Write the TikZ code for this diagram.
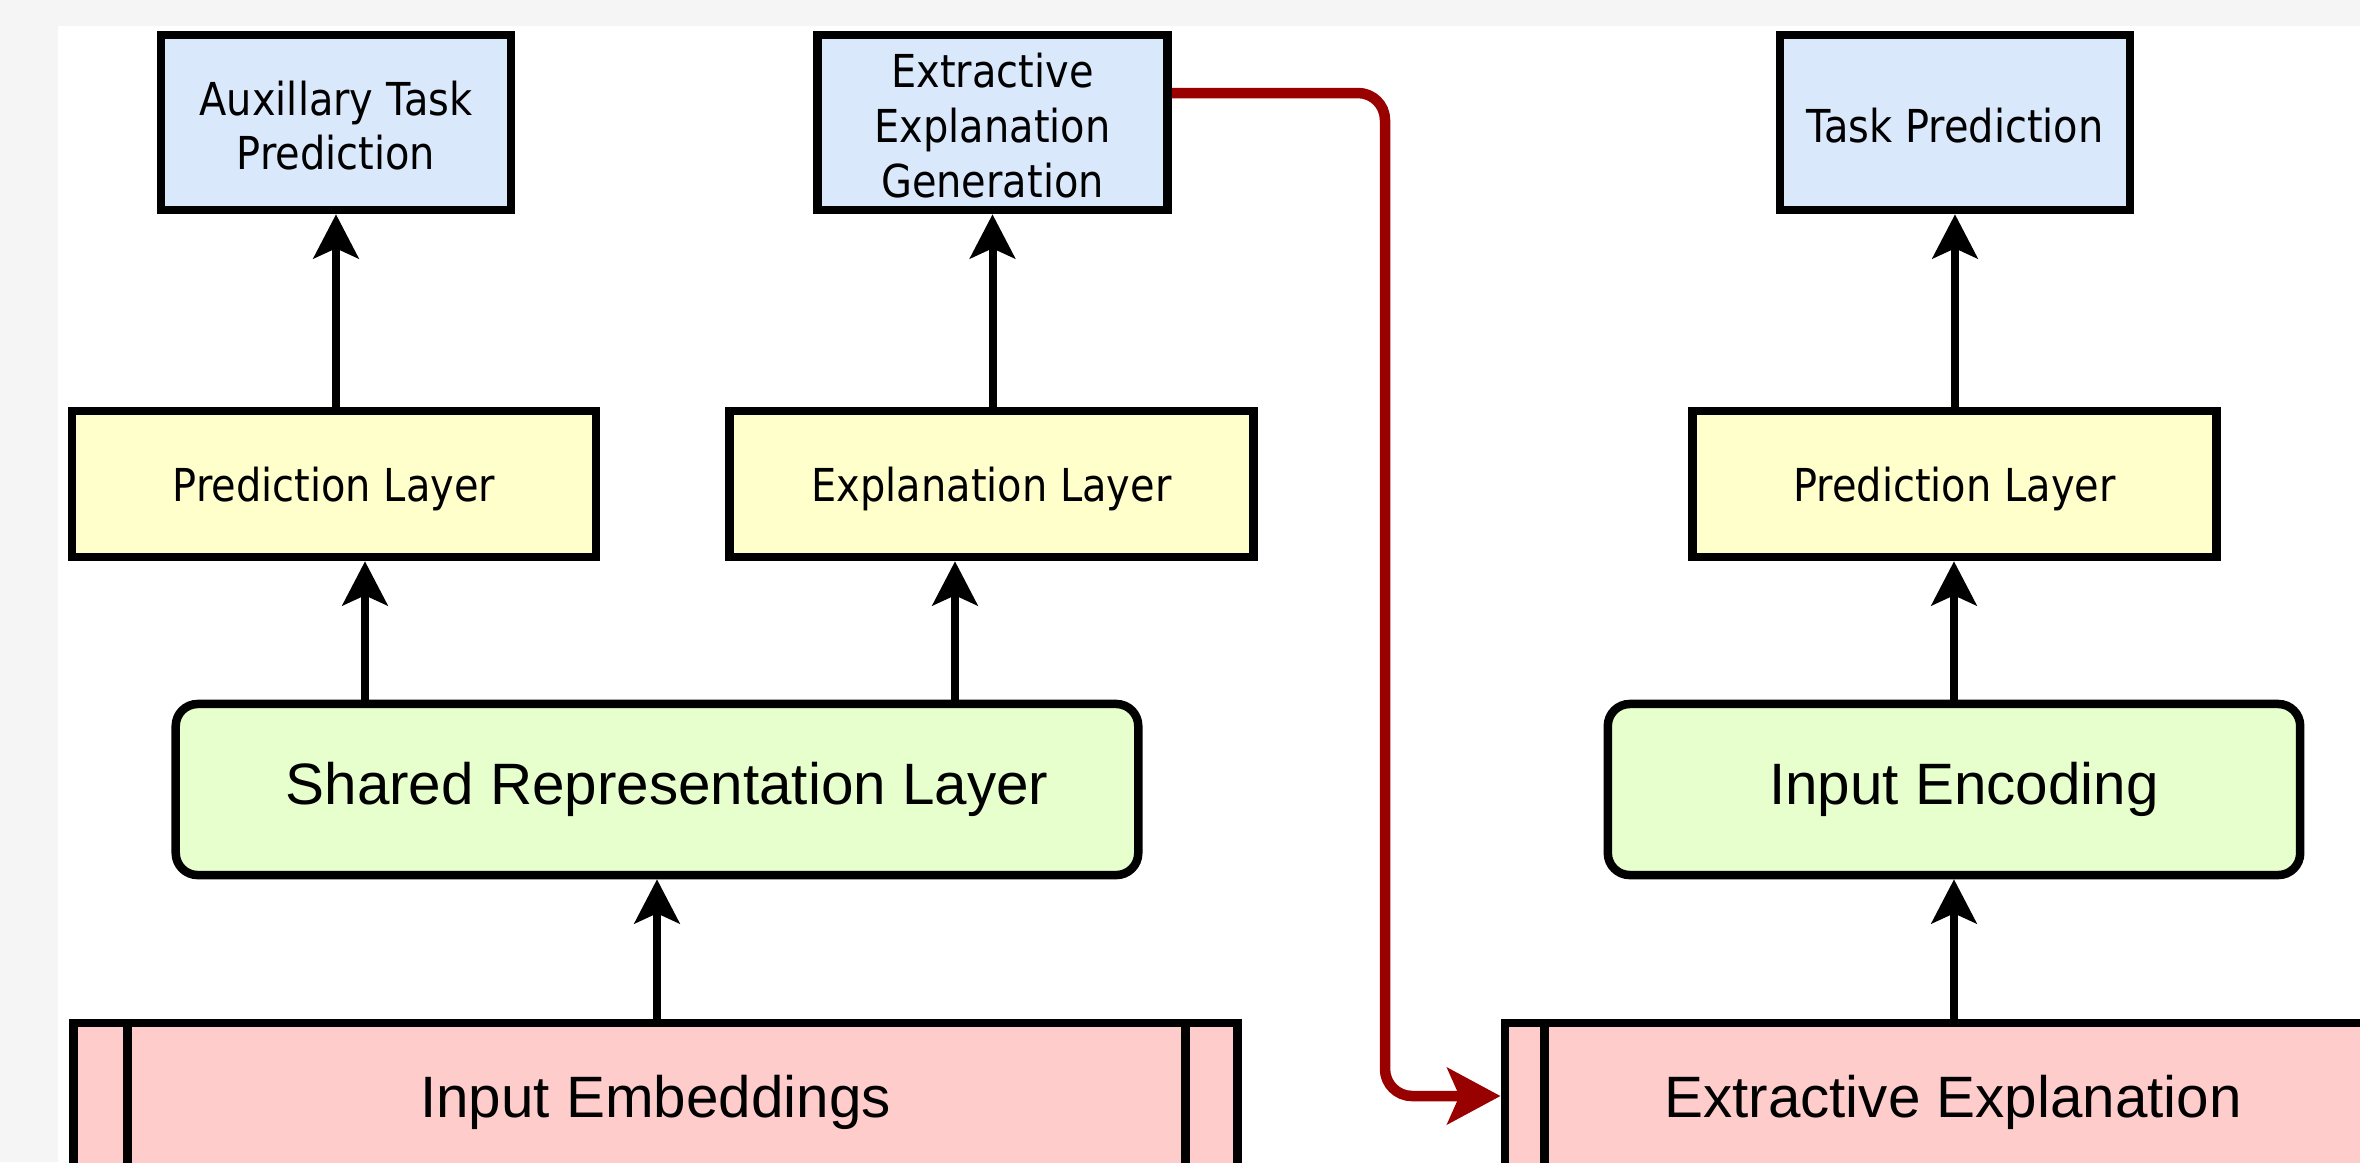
\documentclass[tikz,border=0pt]{standalone}
\usepackage{fontspec}
\usetikzlibrary{arrows.meta}
\newfontfamily\boxfont[FakeStretch=0.88]{DejaVu Sans}
\newfontfamily\layerfont{Liberation Sans}
\definecolor{framegray}{HTML}{F5F5F5}
\definecolor{outfill}{HTML}{DAE8FC}
\definecolor{layerfill}{HTML}{FFFFCC}
\definecolor{reprfill}{HTML}{E6FFCC}
\definecolor{infill}{HTML}{FFCCCC}
\definecolor{linkred}{HTML}{990000}
% centred block of lines, its ink set lower while its box keeps its size
\newcommand\boxtext[2]{\raisebox{-#1}[\height][\depth]{\begin{tabular}{@{}c@{}}#2\end{tabular}}}

\begin{document}
\begin{tikzpicture}[x=0.01cm,y=-0.01cm,
  box/.style={draw=black, line width=0.085cm, outer sep=0.0425cm, inner sep=0pt,
    align=center, text=black},
  smallbox/.style={box, font={\boxfont\fontsize{12.9pt}{15.6pt}\selectfont}},
  outbox/.style={smallbox, fill=outfill, minimum width=3.50cm, minimum height=1.75cm},
  layerbox/.style={smallbox, fill=layerfill, minimum width=5.24cm, minimum height=1.46cm},
  bigbox/.style={box, font={\layerfont\fontsize{16.6pt}{19pt}\selectfont}},
  reprbox/.style={bigbox, fill=reprfill, rounded corners=0.22cm, minimum height=1.71cm},
  inbox/.style={bigbox, fill=infill, minimum height=1.58cm},
  arr/.style={draw=black, line width=0.08cm,
    -{Stealth[length=0.44cm,width=0.45cm,inset=0.1cm]}},
  redarr/.style={draw=linkred, line width=0.105cm, rounded corners=0.27cm,
    -{Stealth[length=0.53cm,width=0.56cm,inset=0.12cm]}}]

% page frame
\useasboundingbox (0,0) rectangle (2360,1162);
\clip (0,0) rectangle (2360,1162);
\fill[framegray] (0,0) rectangle (2360,1162);
\fill[white] (58,26) rectangle (2360,1162);

% output boxes
\node[outbox] (aux)  at (336,122.5)   {\boxtext{0.09cm}{Auxillary Task\\Prediction}};
\node[outbox] (egen) at (992.5,122.5) {\boxtext{0.09cm}{Extractive\\Explanation\\Generation}};
\node[outbox] (task) at (1955,122.5)  {\boxtext{0.09cm}{Task Prediction}};

% layer boxes
\node[layerbox] (predL) at (334,484)    {\boxtext{0.07cm}{Prediction Layer}};
\node[layerbox] (explL) at (991.5,484)  {\boxtext{0.07cm}{Explanation Layer}};
\node[layerbox] (predR) at (1954.5,484) {\boxtext{0.07cm}{Prediction Layer}};

% representation boxes
\node[reprbox, minimum width=9.62cm] (shared) at (657,789.5)  {\hspace*{0.2cm}Shared Representation Layer};
\node[reprbox, minimum width=6.92cm] (inenc)  at (1954,789.5) {\hspace*{0.2cm}Input Encoding};

% input boxes (run past the lower edge of the page)
\node[inbox, minimum width=11.63cm] (inemb)  at (655.5,1102) {Input Embeddings};
\node[inbox, minimum width=8.96cm]  (extexp) at (1953,1102)  {Extractive Explanation};
\draw[line width=0.085cm] ([xshift=0.58cm]inemb.north west) -- ([xshift=0.58cm]inemb.south west);
\draw[line width=0.085cm] ([xshift=-0.56cm]inemb.north east) -- ([xshift=-0.56cm]inemb.south east);
\draw[line width=0.085cm] ([xshift=0.44cm]extexp.north west) -- ([xshift=0.44cm]extexp.south west);

% connectors
\coordinate (a1) at (365,0);
\coordinate (a2) at (955,0);
\draw[arr] (aux.south |- predL.north) -- (aux.south);
\draw[arr] (egen.south |- explL.north) -- (egen.south);
\draw[arr] (task.south |- predR.north) -- (task.south);
\draw[arr] (shared.north -| a1) -- (predL.south -| a1);
\draw[arr] (shared.north -| a2) -- (explL.south -| a2);
\draw[arr] (inemb.north -| shared.south) -- (shared.south);
\draw[arr] (extexp.north -| inenc.south) -- (inenc.south);
\draw[arr] (inenc.north) -- (predR.south -| inenc.north);

% explanation feed
\coordinate (ra) at (1385,93);
\coordinate (rb) at (0,1096);
\draw[redarr] (egen.east |- ra) -- (ra) |- (extexp.west |- rb);
\end{tikzpicture}
\end{document}
